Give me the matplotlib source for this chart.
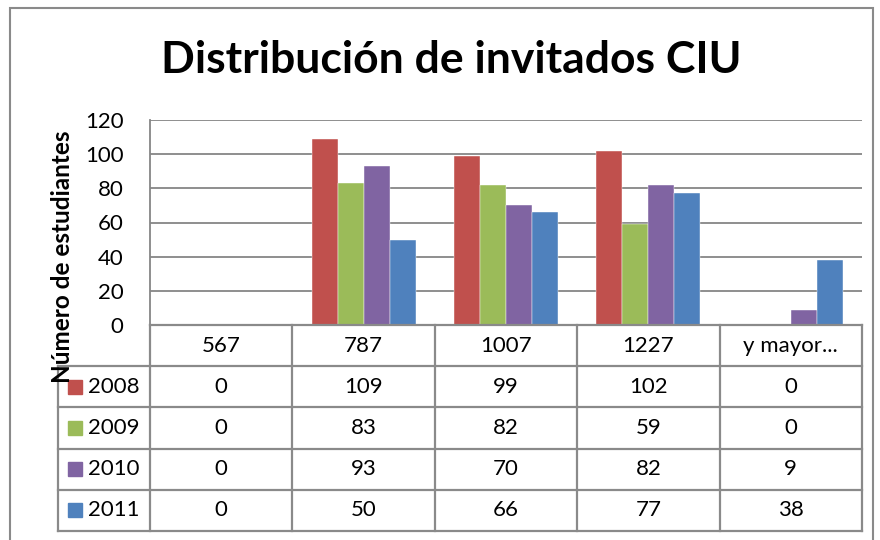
import matplotlib
matplotlib.use("Agg")
import matplotlib.pyplot as plt
from matplotlib.patches import Rectangle
import numpy as np

plt.rcParams['font.family'] = ['Lato', 'DejaVu Sans']

categories = ['567', '787', '1007', '1227', 'y mayor...']
years = ['2008', '2009', '2010', '2011']
v2008 = [0, 109, 99, 102, 0]
v2009 = [0, 83, 82, 59, 0]
v2010 = [0, 93, 70, 82, 9]
v2011 = [0, 50, 66, 77, 38]
series = [v2008, v2009, v2010, v2011]
colors = ['#C0504D', '#9BBB59', '#8064A2', '#4F81BD']
yticks = [0, 20, 40, 60, 80, 100, 120]

W, H = 880, 540
fig = plt.figure(figsize=(W / 100, H / 100), dpi=100)
fig.patch.set_facecolor('white')

def fx(px):
    return px / W

def fy(py):
    return 1 - py / H

grid_c = '#868686'
tab_c = '#8a8a8a'
FS = 16

# Outer chart border
fig.add_artist(Rectangle((fx(10), fy(600)), fx(873) - fx(10), fy(8) - fy(600),
                         transform=fig.transFigure, fill=False,
                         edgecolor=tab_c, lw=1.5))

# Bar axes
L, R, T, B = 150, 862, 120, 325
ax = fig.add_axes([fx(L), fy(B), fx(R) - fx(L), (B - T) / H])
ax.set_xlim(-0.5, len(categories) - 0.5)
ax.set_ylim(0, 120)
x = np.arange(len(categories))
bw = 0.1826
for i, (vals, c) in enumerate(zip(series, colors)):
    ax.bar(x + (i - 1.5) * bw, vals, width=bw, color=c, zorder=3,
           edgecolor='white', linewidth=0.3)
ax.set_yticks(yticks)
ax.set_yticklabels([str(t) for t in yticks], fontsize=FS)
ax.tick_params(axis='y', length=0, pad=19)
ax.set_xticks([])
ax.yaxis.grid(True, color=grid_c, lw=1.3, zorder=0)
for s in ['top', 'right', 'bottom']:
    ax.spines[s].set_visible(False)
ax.spines['left'].set_color(grid_c)
ax.spines['left'].set_linewidth(1.3)

# Data table
TB = 531
tax = fig.add_axes([fx(L), fy(TB), fx(R) - fx(L), (TB - B) / H])
tax.set_xlim(-0.5, len(categories) - 0.5)
tax.set_ylim(5, 0)
tax.axis('off')
xl = -0.5 - (L - 58) / ((R - L) / len(categories))
kw = dict(color=tab_c, lw=1.6, clip_on=False, solid_capstyle='projecting')
for j in range(len(categories) + 1):
    tax.plot([j - 0.5, j - 0.5], [0, 5], **kw)
tax.plot([xl, xl], [1, 5], **kw)
tax.plot([-0.5, len(categories) - 0.5], [0, 0], **kw)
for r in range(1, 6):
    tax.plot([xl, len(categories) - 0.5], [r, r], **kw)

for j, cat in enumerate(categories):
    tax.text(j, 0.5, cat, ha='center', va='center', fontsize=FS)
for i, (yr, vals, c) in enumerate(zip(years, series, colors)):
    yrow = i + 1.5
    tax.plot([xl + 0.117], [yrow], marker='s', markersize=10.5, color=c,
             clip_on=False, linestyle='none')
    tax.text(xl + 0.21, yrow, yr, ha='left', va='center', fontsize=FS)
    for j, v in enumerate(vals):
        tax.text(j, yrow, str(v), ha='center', va='center', fontsize=FS)

# Y label
fig.text(fx(62), fy(257), 'Número de estudiantes', rotation=90,
         ha='center', va='center', fontsize=17.5, fontweight='bold')

# Title
fig.text(fx(451), fy(60), 'Distribución de invitados CIU', ha='center',
         va='center', fontsize=32, fontweight='bold')

fig.savefig('out.png', dpi=100)
